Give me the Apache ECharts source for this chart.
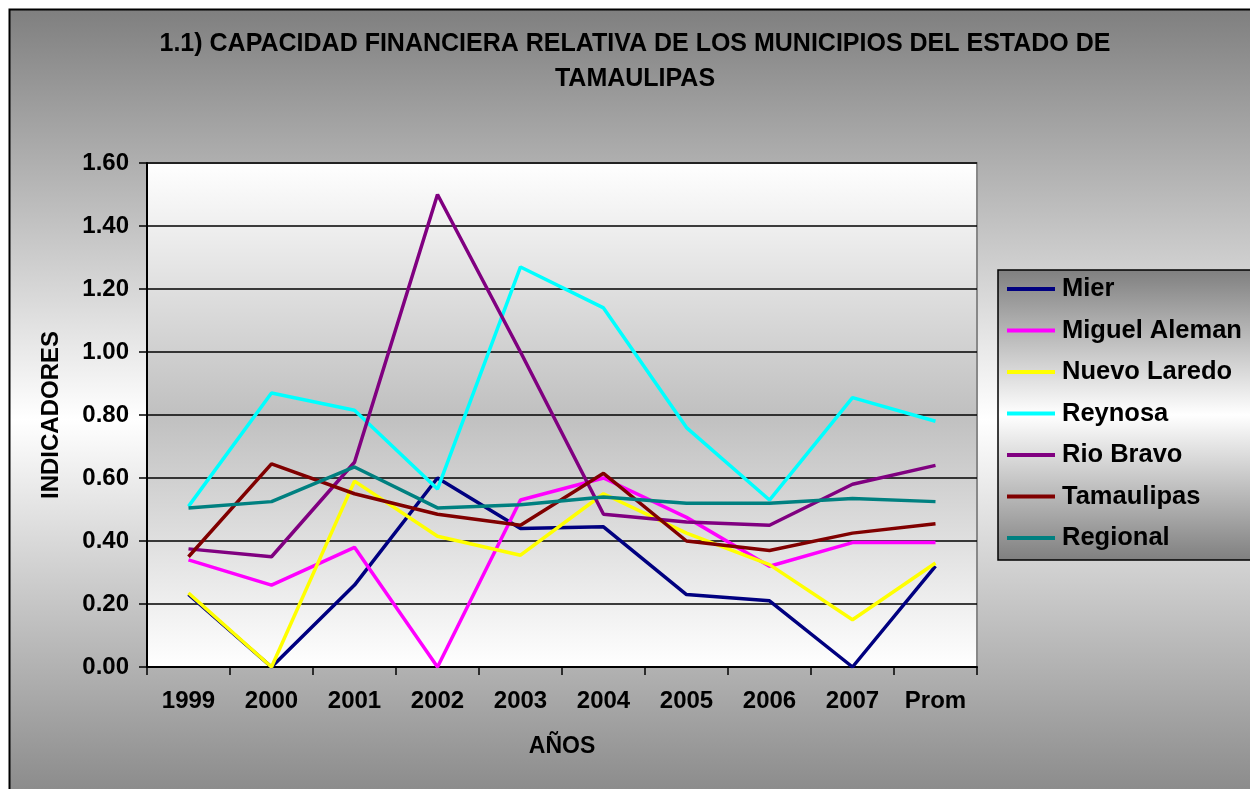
<!DOCTYPE html>
<html>
<head>
<meta charset="utf-8">
<script src="https://cdn.jsdelivr.net/npm/echarts@6/dist/echarts.min.js"></script>
<style>
  html, body { margin: 0; padding: 0; background: #fff; }
  #chart { width: 1250px; height: 789px; }
</style>
</head>
<body>
<div id="chart"></div>
<script>
// categorias del eje X
var anios = ['1999', '2000', '2001', '2002', '2003', '2004', '2005', '2006', '2007', 'Prom'];

// indicadores por municipio
var mier          = [0.23, 0.00, 0.26, 0.60, 0.44, 0.445, 0.23, 0.21, 0.00, 0.32];
var miguelAleman  = [0.34, 0.26, 0.38, 0.00, 0.53, 0.60, 0.475, 0.32, 0.395, 0.395];
var nuevoLaredo   = [0.235, 0.00, 0.59, 0.415, 0.355, 0.55, 0.425, 0.325, 0.15, 0.33];
var reynosa       = [0.51, 0.87, 0.815, 0.565, 1.27, 1.14, 0.76, 0.53, 0.855, 0.78];
var rioBravo      = [0.375, 0.35, 0.65, 1.50, 1.00, 0.485, 0.46, 0.45, 0.58, 0.64];
var tamaulipas    = [0.35, 0.645, 0.55, 0.485, 0.45, 0.615, 0.40, 0.37, 0.425, 0.455];
var regional      = [0.505, 0.525, 0.635, 0.505, 0.515, 0.54, 0.52, 0.52, 0.535, 0.525];

var nombres = ['Mier', 'Miguel Aleman', 'Nuevo Laredo', 'Reynosa', 'Rio Bravo', 'Tamaulipas', 'Regional'];
var colores = ['#000080', '#FF00FF', '#FFFF00', '#00FFFF', '#800080', '#800000', '#008080'];
var datos = [mier, miguelAleman, nuevoLaredo, reynosa, rioBravo, tamaulipas, regional];

var fuente = 'Liberation Sans, Arial, sans-serif';

// degradado gris-blanco-gris del fondo y la leyenda
function gris() {
    return new echarts.graphic.LinearGradient(0, 0, 0, 1, [
        {offset: 0, color: '#7f7f7f'},
        {offset: 0.5, color: '#ffffff'},
        {offset: 1, color: '#7f7f7f'}
    ]);
}

var chart = echarts.init(document.getElementById('chart'));

var series = [];
for (var i = 0; i < nombres.length; i++) {
    series.push({
        name: nombres[i],
        type: 'line',
        symbol: 'none',
        data: datos[i],
        lineStyle: {width: 3.5, color: colores[i]},
        itemStyle: {color: colores[i]}
    });
}

var option = {
    animation: false,
    graphic: [{
        type: 'rect',
        z: -10,
        shape: {x: 9.5, y: 9.5, width: 1300, height: 820},
        style: {fill: gris(), stroke: '#000', lineWidth: 2}
    }],
    title: {
        text: '1.1) CAPACIDAD FINANCIERA RELATIVA DE LOS MUNICIPIOS DEL ESTADO DE\nTAMAULIPAS',
        left: 630,
        textAlign: 'center',
        top: 22,
        textStyle: {
            fontFamily: fuente,
            fontSize: 25,
            fontWeight: 'bold',
            color: '#000',
            lineHeight: 35
        }
    },
    legend: {
        orient: 'vertical',
        left: 998,
        top: 270,
        padding: [6, 20, 9, 9],
        itemWidth: 48,
        itemHeight: 4,
        itemGap: 15.5,
        icon: 'rect',
        backgroundColor: gris(),
        borderColor: '#000',
        borderWidth: 1.5,
        data: nombres,
        textStyle: {
            fontFamily: fuente,
            fontSize: 25.5,
            fontWeight: 'bold',
            color: '#000',
            lineHeight: 26,
            padding: [0, 0, 0, 2]
        }
    },
    grid: {
        left: 147,
        right: 273,
        top: 163,
        bottom: 122,
        show: true,
        borderColor: '#888',
        borderWidth: 2,
        backgroundColor: new echarts.graphic.LinearGradient(0, 0, 0, 1, [
            {offset: 0, color: '#ffffff'},
            {offset: 0.5, color: '#c0c0c0'},
            {offset: 1, color: '#ffffff'}
        ])
    },
    xAxis: {
        type: 'category',
        data: anios,
        name: 'AÑOS',
        nameLocation: 'middle',
        nameGap: 68,
        nameTextStyle: {fontFamily: fuente, fontSize: 23, fontWeight: 'bold', color: '#000'},
        axisLine: {lineStyle: {color: '#000', width: 2}},
        axisTick: {show: true, length: 8, lineStyle: {color: '#000', width: 1.5}},
        axisLabel: {
            margin: 22,
            fontFamily: fuente,
            fontSize: 24,
            fontWeight: 'bold',
            color: '#000'
        }
    },
    yAxis: {
        type: 'value',
        min: 0,
        max: 1.6,
        interval: 0.2,
        name: 'INDICADORES',
        nameLocation: 'middle',
        nameGap: 84,
        nameTextStyle: {fontFamily: fuente, fontSize: 24, fontWeight: 'bold', color: '#000'},
        axisLine: {show: true, lineStyle: {color: '#000', width: 2}},
        axisTick: {show: true, length: 8, lineStyle: {color: '#000', width: 1.5}},
        splitLine: {lineStyle: {color: '#000', width: 1.5}},
        axisLabel: {
            margin: 18,
            fontFamily: fuente,
            fontSize: 24,
            fontWeight: 'bold',
            color: '#000',
            formatter: function (v) { return v.toFixed(2); }
        }
    },
    series: series
};

chart.setOption(option);
</script>
</body>
</html>
